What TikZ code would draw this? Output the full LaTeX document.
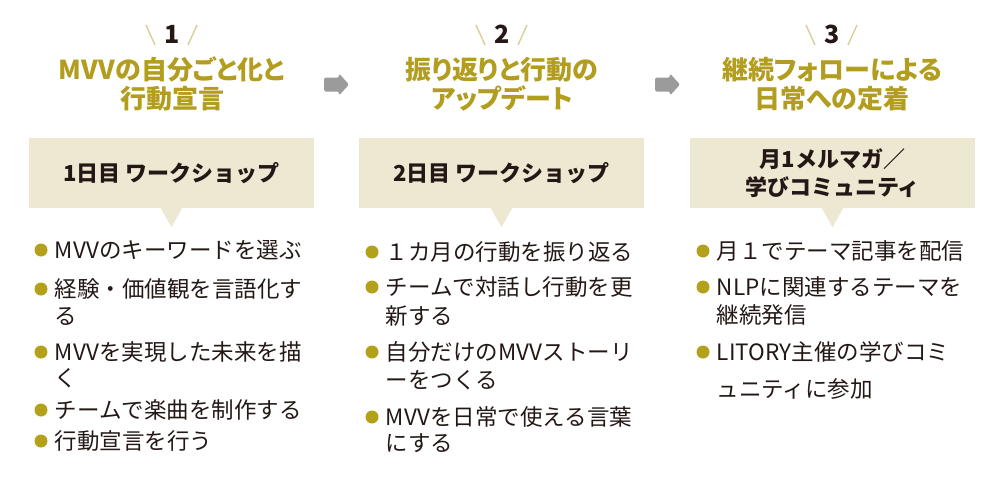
\documentclass[tikz,border=0pt]{standalone}
\usepackage{fontspec}
\setmainfont{Noto Sans CJK JP}
\newfontfamily\headfont[RawFeature=+palt]{Noto Sans CJK JP}
\usetikzlibrary{positioning,calc}
\definecolor{gold}{HTML}{B29D1E}
\definecolor{dotgold}{HTML}{B3A11C}
\definecolor{beige}{HTML}{EDE8D1}
\definecolor{ink}{HTML}{231815}
\definecolor{tickgold}{HTML}{D8CF98}
\definecolor{arrowgray}{HTML}{9B9B9B}

\begin{document}
\begin{tikzpicture}[x=1pt, y=-1pt,
  num/.style={font=\fontsize{25}{25}\selectfont\bfseries, text=ink, inner sep=0pt},
  title/.style={font=\headfont\fontsize{26}{29.5}\selectfont\bfseries, text=gold, align=center, inner sep=0pt},
  callout/.style={fill=beige, minimum width=285pt, minimum height=70pt, align=center, inner sep=0pt,
    font=\fontsize{22}{28}\selectfont\bfseries, text=ink},
  item/.style={inner sep=0pt, font=\fontsize{22.5}{22.5}\selectfont, text=ink},
  dot/.style={circle, fill=dotgold, minimum size=13pt, inner sep=0pt},
  tick/.style={tickgold, line width=1.4pt},
  next/.style={fill=arrowgray, rounded corners=1.5pt}
]
\useasboundingbox (0,0) rectangle (1008,487);

% step headers
\node[num] (n1) at (172,34) {1};
\node[num] (n2) at (502,34) {2};
\node[num] (n3) at (832,34) {3};
\foreach \n in {n1,n2,n3}{
  \draw[tick] ($(\n)+(-26,-9)$) -- ($(\n)+(-17,11)$);
  \draw[tick] ($(\n)+(25,-9)$) -- ($(\n)+(16,11)$);
}
\node[title] (h1) at (172,84) {MVVの自分ごと化と\\行動宣言};
\node[title] (h2) at (502,84) {振り返りと行動の\\アップデート};
\node[title] (h3) at (832,84) {継続フォローによる\\日常への定着};

% arrows between steps
\coordinate (gap1) at (336,84.5);
\coordinate (gap2) at (667,84.5);
\foreach \g in {gap1,gap2}
  \fill[next, shift={(\g)}] (-12,-7) -- (3,-7) -- (3,-11) -- (13,0) -- (3,11) -- (3,7) -- (-12,7) -- cycle;

% callouts
\node[callout] (b1) at (171.5,173) {1日目 ワークショップ};
\node[callout] (b2) at (501.5,173) {2日目 ワークショップ};
\node[callout] (b3) at (832.5,173) {月1メルマガ／\\学びコミュニティ};
\foreach \b in {b1,b2,b3}
  \fill[beige] ($(\b.south)+(-11,-0.5)$) -- ($(\b.south)+(0,19)$) -- ($(\b.south)+(11,-0.5)$) -- cycle;

% step 1 items
\node[dot] (d1a) at (41,250) {};
\node[item, right=7pt of d1a] (t1a) {MVVのキーワードを選ぶ};
\node[dot] (d1b) at (41,289) {};
\node[item, right=7pt of d1b] (t1b) {経験・価値観を言語化す};
\node[item, anchor=west] (t1b2) at (54.5,316) {る};
\node[dot] (d1c) at (41,352) {};
\node[item, right=7pt of d1c] (t1c) {MVVを実現した未来を描};
\node[item, anchor=west] (t1c2) at (54.5,378) {く};
\node[dot] (d1d) at (41,410) {};
\node[item, right=7pt of d1d] (t1d) {チームで楽曲を制作する};
\node[dot] (d1e) at (41,441) {};
\node[item, right=7pt of d1e] (t1e) {行動宣言を行う};

% step 2 items
\node[dot] (d2a) at (372,252) {};
\node[item, right=7pt of d2a] (t2a) {１カ月の行動を振り返る};
\node[dot] (d2b) at (372,287) {};
\node[item, right=7pt of d2b] (t2b) {チームで対話し行動を更};
\node[item, anchor=west] (t2b2) at (385.5,316) {新する};
\node[dot] (d2c) at (372,352) {};
\node[item, right=7pt of d2c] (t2c) {自分だけのMVVストーリ};
\node[item, anchor=west] (t2c2) at (385.5,380) {ーをつくる};
\node[dot] (d2d) at (372,417) {};
\node[item, right=7pt of d2d] (t2d) {MVVを日常で使える言葉};
\node[item, anchor=west] (t2d2) at (385.5,443) {にする};

% step 3 items
\node[dot] (d3a) at (703,251) {};
\node[item, right=7pt of d3a] (t3a) {月１でテーマ記事を配信};
\node[dot] (d3b) at (703,287) {};
\node[item, right=7pt of d3b] (t3b) {NLPに関連するテーマを};
\node[item, anchor=west] (t3b2) at (716.5,315) {継続発信};
\node[dot] (d3c) at (703,352) {};
\node[item, right=7pt of d3c] (t3c) {LITORY主催の学びコミ};
\node[item, anchor=west] (t3c2) at (716.5,389) {ュニティに参加};
\end{tikzpicture}
\end{document}
